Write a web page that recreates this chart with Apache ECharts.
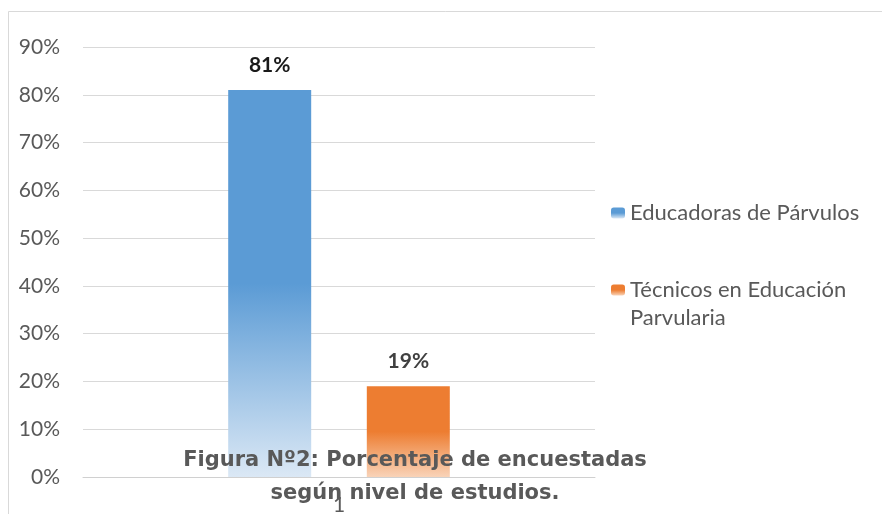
<!DOCTYPE html>
<html>
<head>
<meta charset="utf-8">
<script src="https://cdn.jsdelivr.net/npm/echarts@6/dist/echarts.min.js"></script>
<style>html,body{margin:0;padding:0;background:#fff;}#c{width:882px;height:514px;}</style>
</head>
<body>
<div id="c"></div>
<script>
const categories = ['1'];
const seriesNames = ['Educadoras de Párvulos', 'Técnicos en Educación Parvularia'];
const educadoras = [81];
const tecnicos = [19];
const yTicks = [0, 10, 20, 30, 40, 50, 60, 70, 80, 90];
const titleLines = ['Figura Nº2: Porcentaje de encuestadas', 'según nivel de estudios.'];

function grad(c1, c2) {
  return new echarts.graphic.LinearGradient(0, 0, 0, 1, [
    {offset: 0, color: c1}, {offset: 0.5, color: c1}, {offset: 1, color: c2}
  ]);
}
const chart = echarts.init(document.getElementById('c'), null, {renderer: 'canvas'});
const labelFont = 'Lato';
chart.setOption({
  animation: false,
  backgroundColor: '#ffffff',
  graphic: [{
    type: 'rect', z: 0, silent: true,
    shape: {x: 8.5, y: 11.5, width: 900, height: 600},
    style: {fill: 'none', stroke: '#d9d9d9', lineWidth: 1}
  }],
  title: {
    text: titleLines.join('\n'),
    left: 415, top: 444, padding: 0,
    textAlign: 'center',
    textStyle: {fontFamily: 'DejaVu Sans', fontWeight: 'bold', fontSize: 21, lineHeight: 33, color: '#595959'}
  },
  legend: [{
    orient: 'vertical', left: 611, top: 202, padding: 0,
    itemWidth: 14, itemHeight: 11, itemGap: 5,
    data: [seriesNames[0]],
    textStyle: {fontFamily: labelFont, fontSize: 22, color: '#595959'}
  }, {
    orient: 'vertical', left: 611, top: 248, padding: 0,
    itemWidth: 14, itemHeight: 11,
    data: [seriesNames[1]],
    formatter: function (n) { return '\n' + n.replace(' Parvularia', '\nParvularia'); },
    textStyle: {fontFamily: labelFont, fontSize: 22, lineHeight: 28, color: '#595959'}
  }],
  grid: {left: 83, right: 287, top: 47, bottom: 37, containLabel: false, outerBoundsMode: 'none'},
  xAxis: {
    type: 'category', data: categories,
    axisLine: {show: true, lineStyle: {color: '#d0d0d0', width: 1}},
    axisTick: {show: false},
    axisLabel: {fontFamily: labelFont, fontSize: 21, color: '#595959', margin: 18}
  },
  yAxis: {
    type: 'value', min: yTicks[0], max: yTicks[yTicks.length - 1], interval: 10,
    axisLine: {show: false}, axisTick: {show: false},
    axisLabel: {fontFamily: labelFont, fontSize: 21, color: '#595959', margin: 23, formatter: '{value}%'},
    splitLine: {lineStyle: {color: '#d9d9d9', width: 1}}
  },
  series: [{
    name: seriesNames[0], type: 'bar', data: educadoras,
    barWidth: 83, barGap: '67%',
    itemStyle: {color: grad('#5b9bd5', '#dbe8f5')},
    label: {show: true, position: 'top', distance: 14, formatter: '{c}%',
      fontFamily: labelFont, fontWeight: 'bold', fontSize: 21, color: '#1a1a1a'}
  }, {
    name: seriesNames[1], type: 'bar', data: tecnicos,
    barWidth: 83, barGap: '67%',
    itemStyle: {color: grad('#ed7d31', '#f9d3b8')},
    label: {show: true, position: 'top', distance: 14, formatter: '{c}%',
      fontFamily: labelFont, fontWeight: 'bold', fontSize: 21, color: '#404040'}
  }]
});
</script>
</body>
</html>
